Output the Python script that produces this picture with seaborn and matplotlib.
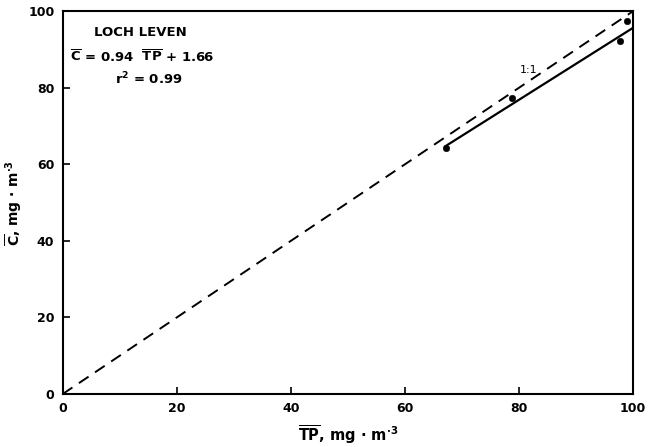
import matplotlib
matplotlib.use("Agg")
import matplotlib.pyplot as plt
import seaborn as sns
import numpy as np
import pandas as pd

# Data
tp_obs = [67.2, 78.7, 97.7, 98.9]
c_obs = [64.2, 77.3, 92.2, 97.5]
one_to_one_x = [0, 100]
one_to_one_y = [0, 100]
fit_x = [67, 100]
fit_slope = 0.94
fit_intercept = 1.66
fit_y = [fit_slope * v + fit_intercept for v in fit_x]
x_ticks = [0, 20, 40, 60, 80, 100]
y_ticks = [0, 20, 40, 60, 80, 100]

sns.set_style("white")
plt.rcParams['font.family'] = ['DejaVu Sans']
plt.rcParams['text.color'] = 'black'
plt.rcParams['axes.labelcolor'] = 'black'
plt.rcParams['xtick.color'] = 'black'
plt.rcParams['ytick.color'] = 'black'

fig = plt.figure(figsize=(6.48, 4.47), dpi=100)
ax = fig.add_axes([0.0968, 0.1186, 0.977 - 0.0968, 0.975 - 0.1186])

sns.lineplot(x=one_to_one_x, y=one_to_one_y, ax=ax, color="black", lw=1.4,
             linestyle=(0, (6, 4)))
sns.lineplot(x=fit_x, y=fit_y, ax=ax, color="black", lw=1.6)
sns.scatterplot(x=tp_obs, y=c_obs, ax=ax, color="black", s=22, edgecolor="black", zorder=5)

ax.set_xlim(0, 100)
ax.set_ylim(0, 100)
ax.set_xticks(x_ticks)
ax.set_yticks(y_ticks)
ax.tick_params(axis="both", direction="in", length=5, width=1.2, labelsize=9,
               bottom=True, left=True, top=False, right=False, pad=6)
for lab in ax.get_xticklabels() + ax.get_yticklabels():
    lab.set_fontweight("bold")
for sp in ax.spines.values():
    sp.set_linewidth(1.5)
    sp.set_color("black")

ax.set_xlabel(r"$\overline{\mathbf{TP}}$, mg · m$^{\mathbf{\cdot 3}}$", fontsize=10.5, fontweight="bold", labelpad=6)
ax.set_ylabel(r"$\overline{\mathbf{C}}$, mg · m$^{\mathbf{\cdot 3}}$", fontsize=10, fontweight="bold", labelpad=3)

ax.text(0.137, 0.943, "LOCH LEVEN", transform=ax.transAxes, ha="center", va="center",
        fontsize=9.5, fontweight="bold")
ax.text(0.139, 0.88, r"$\overline{\mathbf{C}}$ = 0.94  $\overline{\mathbf{TP}}$ + 1.66", transform=ax.transAxes,
        ha="center", va="center", fontsize=9.5, fontweight="bold")
ax.text(0.151, 0.823, r"r$^{\mathbf{2}}$ = 0.99", transform=ax.transAxes, ha="center", va="center",
        fontsize=9.5, fontweight="bold")
ax.text(81.6, 84.6, "1:1", ha="center", va="center", fontsize=8)

fig.savefig("out.png", dpi=100)
